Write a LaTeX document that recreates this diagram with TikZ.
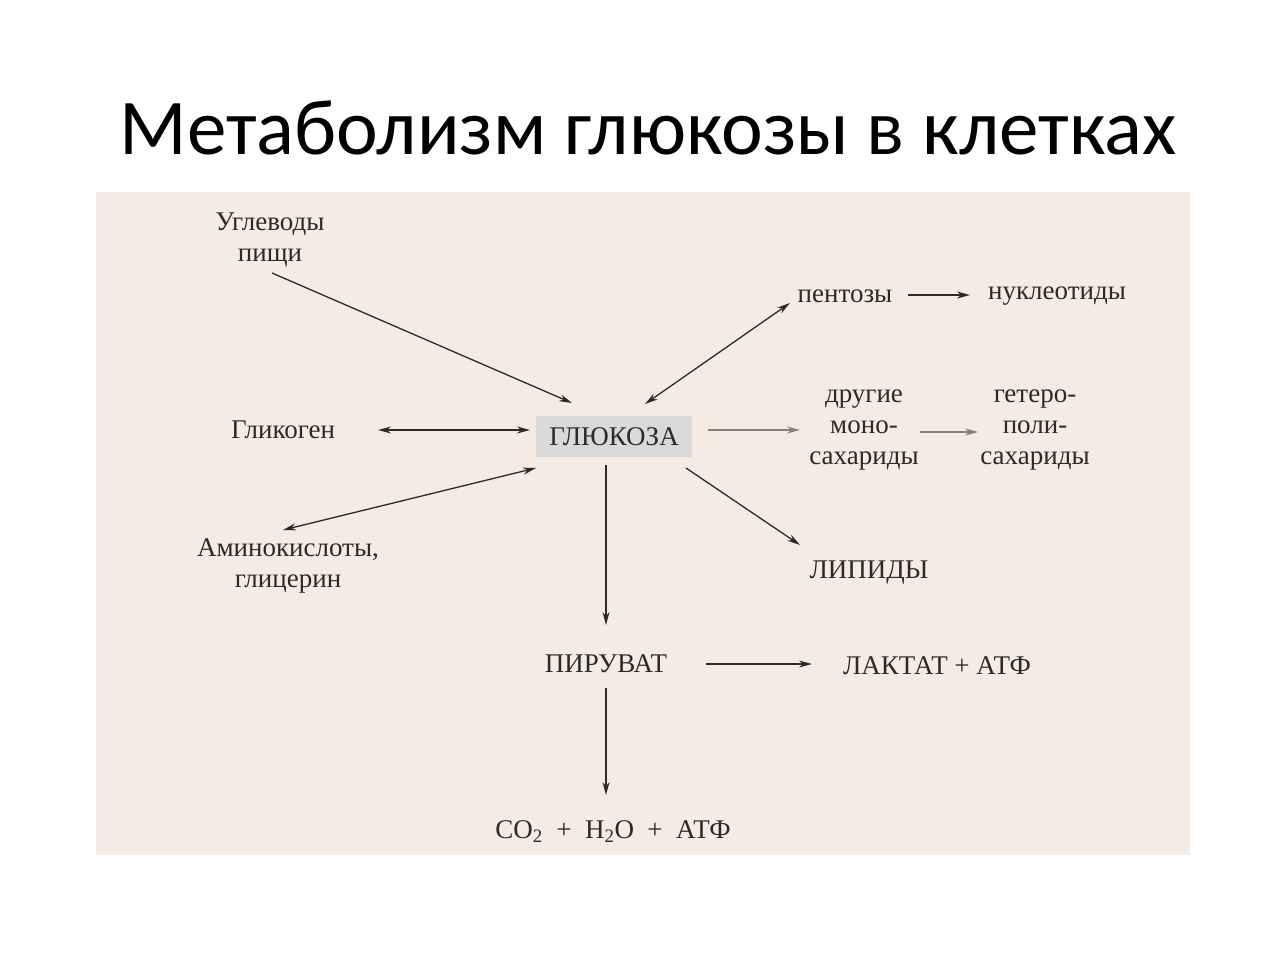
\documentclass[tikz,border=0pt]{standalone}
\usepackage{fontspec}
\setmainfont{Liberation Serif}
\newfontfamily\titlefont{Carlito}
\usetikzlibrary{arrows.meta}
\definecolor{bg}{HTML}{F6EBE2}
\definecolor{ink}{HTML}{2A2A2A}
\begin{document}
\begin{tikzpicture}[x=1pt,y=-1pt,
  lbl/.style={font=\fontsize{27}{31}\selectfont,text=ink,align=center,inner sep=2pt},
  arr/.style={draw=ink,line width=1.3pt,-{Stealth[length=13pt,width=7pt]}},
  darr/.style={draw=ink,line width=1.3pt,{Stealth[length=13pt,width=7pt]}-{Stealth[length=13pt,width=7pt]}}]
\useasboundingbox (0,0) rectangle (1280,960);
\fill[white] (0,0) rectangle (1280,960);
\fill[bg] (96,192) rectangle (1190,855);
\node[font=\titlefont\fontsize{79}{86}\selectfont,text=black] (title) at (648,128) {Метаболизм глюкозы в клетках};
\fill[gray!30] (536,416) rectangle (692,457);
\node[lbl] (glu) at (614,437) {ГЛЮКОЗА};
\node[lbl] (ug) at (270,240) {Углеводы\\пищи};
\node[lbl] (gk) at (283,430) {Гликоген};
\node[lbl] (am) at (288,566) {Аминокислоты,\\глицерин};
\node[lbl] (pe) at (845,296) {пентозы};
\node[lbl] (nu) at (1057,296) {нуклеотиды};
\node[lbl] (dr) at (864,430) {другие\\моно-\\сахариды};
\node[lbl] (ge) at (1035,430) {гетеро-\\поли-\\сахариды};
\node[lbl] (li) at (869,573) {ЛИПИДЫ};
\node[lbl] (pi) at (606,664) {ПИРУВАТ};
\node[lbl] (la) at (937,666) {ЛАКТАТ + АТФ};
\node[lbl] (co) at (613,832) {CO\textsubscript{2} \ + \ H\textsubscript{2}O \ + \ АТФ};
\coordinate (a1) at (272,273); \coordinate (a2) at (572,403);
\coordinate (b1) at (378,430); \coordinate (b2) at (530,430);
\coordinate (c1) at (283,530); \coordinate (c2) at (536,468);
\coordinate (d1) at (645,404); \coordinate (d2) at (790,303);
\coordinate (e1) at (908,295); \coordinate (e2) at (970,295);
\coordinate (f1) at (708,430); \coordinate (f2) at (800,430);
\coordinate (g1) at (920,432); \coordinate (g2) at (978,432);
\coordinate (h1) at (686,468); \coordinate (h2) at (800,545);
\coordinate (i1) at (606,465); \coordinate (i2) at (606,625);
\coordinate (j1) at (706,664); \coordinate (j2) at (812,664);
\coordinate (k1) at (606,688); \coordinate (k2) at (606,795);
\draw[arr] (a1) -- (a2);
\draw[darr] (b1) -- (b2);
\draw[darr] (c1) -- (c2);
\draw[darr] (d1) -- (d2);
\draw[arr] (e1) -- (e2);
\draw[arr,draw=gray] (f1) -- (f2);
\draw[arr,draw=gray] (g1) -- (g2);
\draw[arr] (h1) -- (h2);
\draw[arr] (i1) -- (i2);
\draw[arr] (j1) -- (j2);
\draw[arr] (k1) -- (k2);
\end{tikzpicture}
\end{document}
